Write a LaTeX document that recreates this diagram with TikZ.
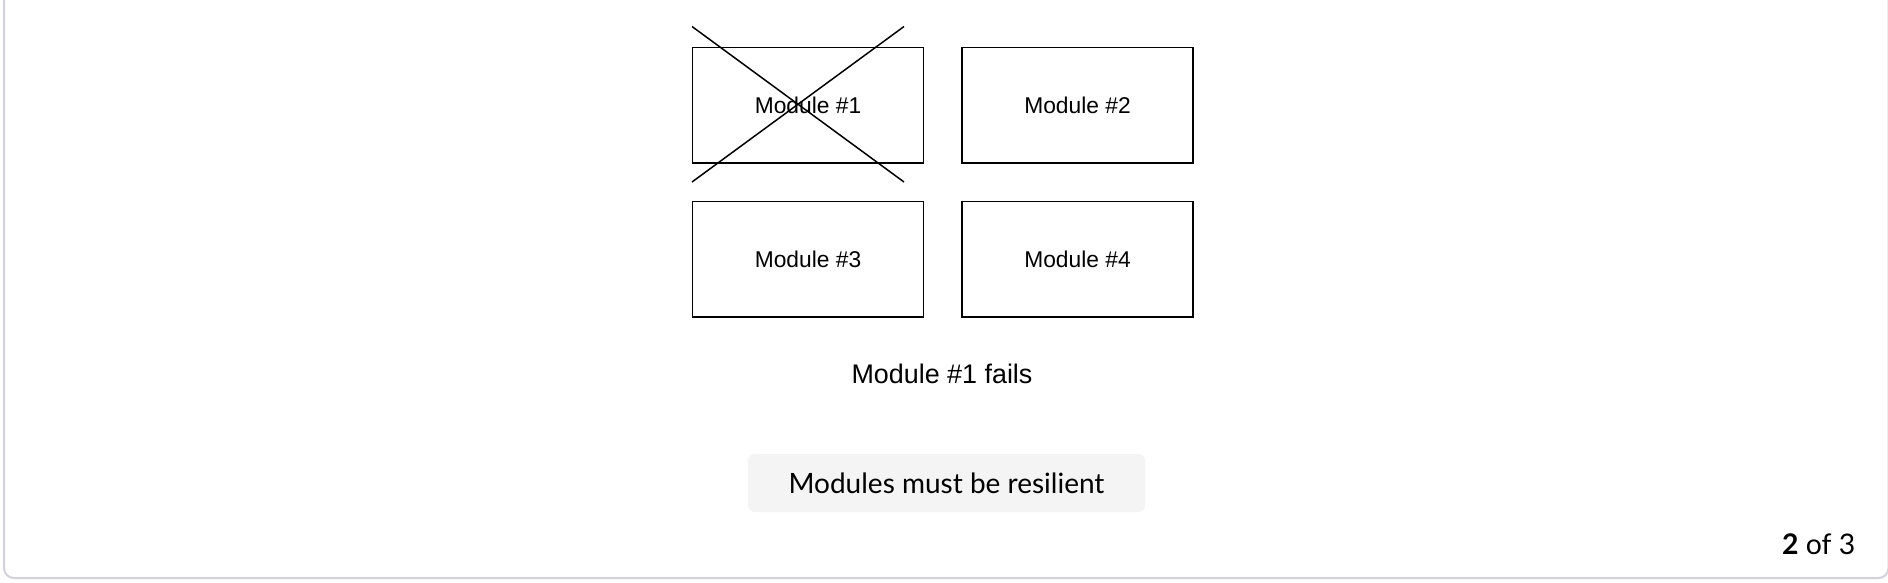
\documentclass[tikz,border=0pt]{standalone}
\usepackage{fontspec}
\setmainfont{Liberation Sans}
\newfontfamily\uifont{Lato}
\definecolor{framegray}{HTML}{D2D2DA}
\definecolor{btnfill}{HTML}{F4F4F4}
\begin{document}
\begin{tikzpicture}[x=1pt,y=-1pt,
  modbox/.style={draw=black,line width=1.5pt,minimum width=231pt,minimum height=115.5pt,inner sep=0pt,
    font=\fontsize{22.8}{27}\selectfont},
  crossline/.style={line width=1.5pt},
  btn/.style={fill=btnfill,rounded corners=7pt,minimum width=397pt,minimum height=58pt,inner sep=0pt,
    font=\uifont\fontsize{28}{33}\selectfont},
]
\useasboundingbox (0,0) rectangle (1888,582);
\fill[white] (0,0) rectangle (1888,582);
% outer card frame
\draw[framegray,line width=2pt,rounded corners=10pt] (4,-20) -- (4,578) -- (1888.5,578) -- (1888.5,-20);
% modules
\node[modbox] (m1) at (808,105) {Module \#1};
\node[modbox] (m2) at (1077.5,105) {Module \#2};
\node[modbox] (m3) at (808,259) {Module \#3};
\node[modbox] (m4) at (1077.5,259) {Module \#4};
% cross over module 1
\coordinate (xa) at (692,26.5);
\coordinate (xb) at (904,182);
\coordinate (xc) at (904,26.5);
\coordinate (xd) at (692,182);
\draw[crossline] (xa) -- (xb);
\draw[crossline] (xc) -- (xd);
% caption
\node[font=\fontsize{26.9}{32}\selectfont] (cap) at (942,374) {Module \#1 fails};
% button
\node[btn] (btn) at (946.5,483) {Modules must be resilient};
% page counter
\node[anchor=east,inner sep=0pt,font=\uifont\fontsize{28.4}{33}\selectfont] (pg) at (1855.5,544) {\textbf{2} of 3};
\end{tikzpicture}
\end{document}
